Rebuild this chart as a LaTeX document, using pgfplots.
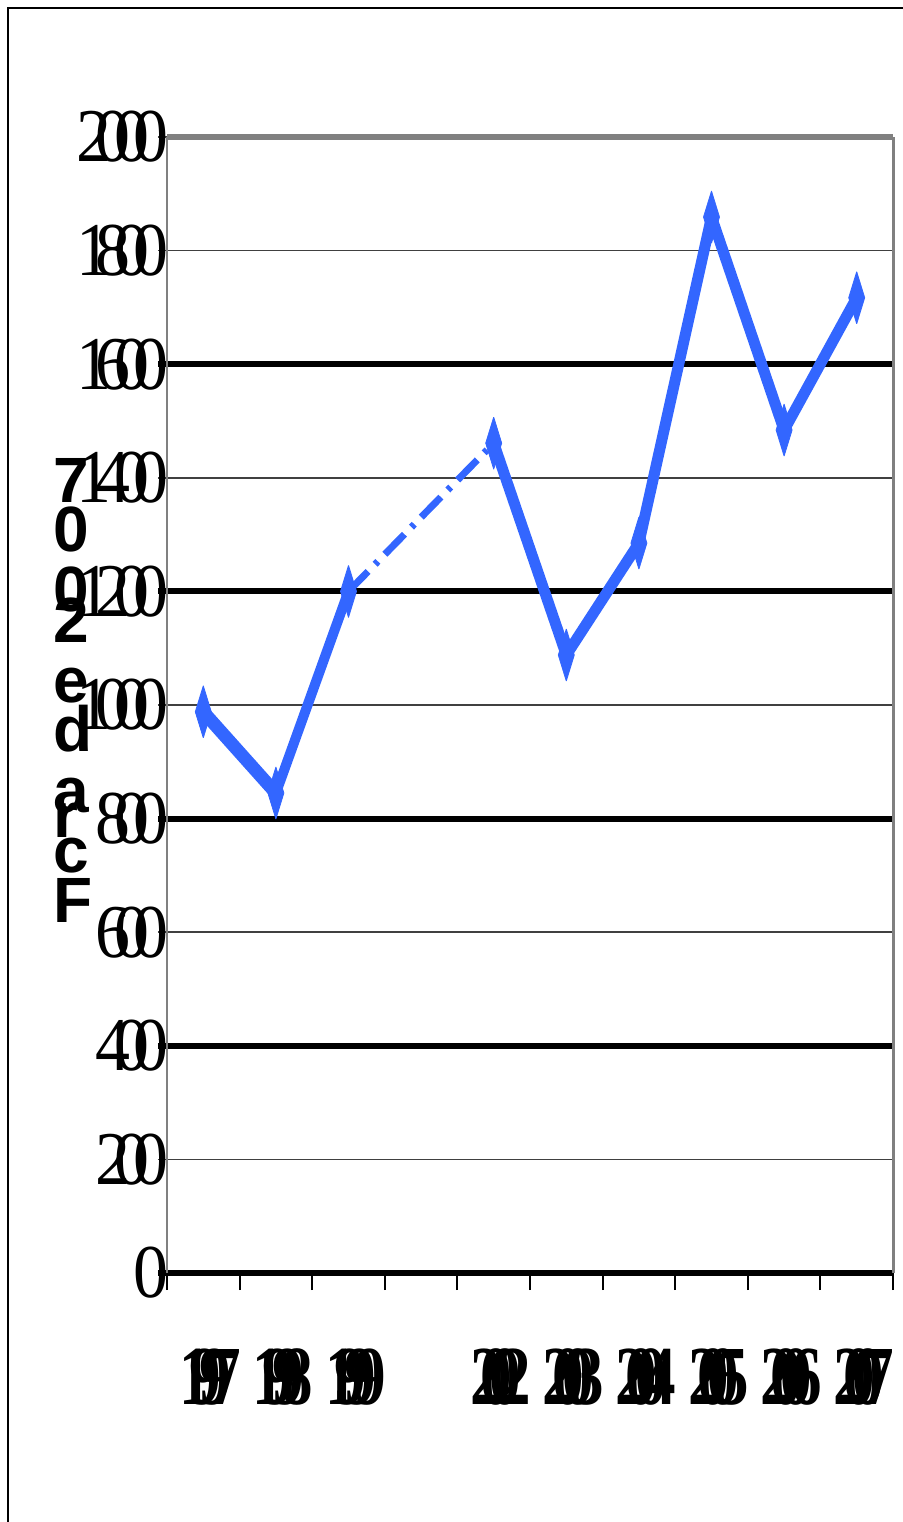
\documentclass[border=0pt]{standalone}
\usepackage{fontspec}
\usepackage{graphicx}
\usepackage{pgfplots}
\pgfplotsset{compat=1.18}
\setmainfont{Liberation Serif}
\newfontfamily\labelsans{Liberation Sans}
\definecolor{lineblue}{RGB}{51,102,255}
\definecolor{framegray}{RGB}{128,128,128}

% squeeze the characters of a label together by a given kern
\makeatletter
\def\sqz#1#2{\begingroup\def\sq@k{#1}\sq@a#2\relax\endgroup}
\def\sq@a#1#2{#1\ifx#2\relax\else\kern\sq@k\relax\expandafter\sq@a\expandafter#2\fi}
\makeatother
\newcommand\yl[1]{\scalebox{0.92}[1]{\fontsize{38}{38}\selectfont\sqz{-8.6pt}{#1}}}
\newcommand\xl[1]{\scalebox{0.75}[1]{\fontsize{42}{42}\selectfont\bfseries\sqz{-14.5pt}{#1}}}

\begin{document}
\begin{tikzpicture}
\begin{axis}[
  at={(0,0)}, anchor=south west,
  scale only axis, width=363pt, height=568pt,
  xmin=0, xmax=10, ymin=0, ymax=2000,
  clip=false,
  axis line style={draw=none},
  xtick pos=bottom, ytick pos=left,
  % category centres carry the year labels, integer positions carry the ticks
  xtick={0.5,1.5,2.5,3.5,4.5,5.5,6.5,7.5,8.5,9.5},
  xticklabels={\xl{1997},\xl{1998},\xl{1999},,\xl{2002},\xl{2003},\xl{2004},\xl{2005},\xl{2006},\xl{2007}},
  minor xtick={0,1,...,10},
  every major x tick/.style={draw=none},
  every minor x tick/.style={black, line width=1pt},
  minor tick length=8.5pt,
  tick align=outside,
  ytick={0,200,...,2000},
  yticklabels={\yl{0},\yl{200},\yl{400},\yl{600},\yl{800},\yl{1000},\yl{1200},\yl{1400},\yl{1600},\yl{1800},\yl{2000}},
  every major y tick/.style={black!75, line width=0.8pt},
  major tick length=4.5pt,
  ymajorgrids,
  major grid style={black!75, line width=0.8pt},
  extra y ticks={0,400,800,1200,1600},
  extra y tick labels={},
  extra y tick style={grid=major, major grid style={black, line width=3pt}, every major y tick/.style={black, line width=3pt}},
  xticklabel style={anchor=north, inner sep=0pt, yshift=-33pt, xshift=3.5pt},
  yticklabel style={anchor=east, inner sep=0pt, xshift=5.5pt},
  every axis plot/.append style={lineblue, line join=bevel},
  after end axis/.code={
    \draw[framegray, line width=1pt] (rel axis cs:0,0) -- (rel axis cs:0,1);
    \draw[framegray, line width=1.5pt] (rel axis cs:1,0) -- (rel axis cs:1,1);
    \draw[framegray, line width=3pt] (rel axis cs:0,1) -- (rel axis cs:1,1);
  },
]
\addplot[line width=6.5pt] coordinates {(0.5,988) (1.5,845)};
\addplot[line width=5pt] coordinates {(1.5,845) (2.5,1200)};
\addplot[line width=3.5pt, dash pattern=on 14pt off 5pt on 2pt off 5pt] coordinates {(2.5,1200) (4.5,1461)};
\addplot[line width=5.5pt] coordinates {(4.5,1461) (5.5,1088) (6.5,1285) (7.5,1859) (8.5,1484) (9.5,1717)};
\addplot[only marks, mark=diamond*, mark size=13pt, mark options={xscale=0.41, fill=lineblue, draw=lineblue, solid}]
  coordinates {(0.5,988) (1.5,845) (2.5,1200) (4.5,1461) (5.5,1088) (6.5,1285) (7.5,1859) (8.5,1484) (9.5,1717)};
\end{axis}
% page frame and the stacked axis title, in page pixel units
\begin{scope}[x=0.5pt, y=-0.5pt, shift={(-83.5pt,636.5pt)}]
  \useasboundingbox (0,0) rectangle (903,1522);
  \draw[black, line width=1pt] (8,1530) -- (8,8) -- (910,8);
  \begin{scope}[every node/.style={anchor=base west, inner sep=0pt, font=\labelsans\bfseries\fontsize{32}{32}\selectfont}]
    \node at (53,503) {7};
    \node at (53,552) {0};
    \node at (53,612) {0};
    \node at (53,643) {2};
    \node at (53,703) {e};
    \node at (53,752) {d};
    \node at (53,813) {a};
    \node at (53,838) {r};
    \node at (53,873) {c};
    \node at (53,923) {F};
  \end{scope}
\end{scope}
\end{tikzpicture}
\end{document}
